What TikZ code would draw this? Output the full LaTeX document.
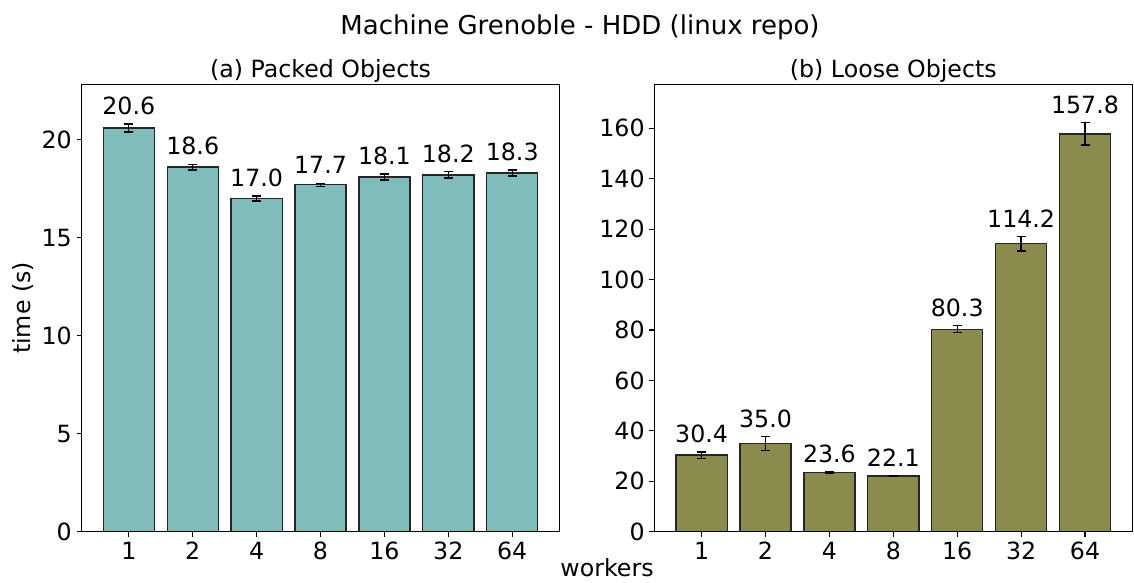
\documentclass[tikz,border=0pt]{standalone}
\usepackage{fontspec}
\setmainfont{DejaVu Sans}
\definecolor{packedfill}{RGB}{128,189,186}
\definecolor{loosefill}{RGB}{139,139,78}

\begin{document}
\begin{tikzpicture}[x=1pt, y=-1pt,
  bar/.style={draw=black!85, line width=1.3pt},
  errbar/.style={black, line width=1.3pt},
  axisframe/.style={draw=black, line width=1.1pt},
  tickline/.style={black, line width=1.1pt},
  ticklabel/.style={font=\fontsize{23.7}{28}\selectfont, inner sep=0pt},
  titlelabel/.style={font=\fontsize{26}{31}\selectfont, inner sep=0pt}]

  \useasboundingbox (0,0) rectangle (1134,583);

  % Titles
  \node[titlelabel, anchor=base] (T) at (580,34.3) {Machine Grenoble - HDD (linux repo)};
  \node[ticklabel, anchor=base] (Ta) at (320.5,77.3) {(a) Packed Objects};
  \node[ticklabel, anchor=base] (Tb) at (893.3,77.3) {(b) Loose Objects};
  \node[ticklabel, anchor=base] (X) at (607,576.7) {workers};
  \node[ticklabel, anchor=base, rotate=90] (Y) at (30.7,308) {time (s)};

  % Packed objects bars
  \foreach \i/\w/\v/\e in {0/1/20.6/0.2, 1/2/18.6/0.14, 2/4/17.0/0.13, 3/8/17.7/0.08,
                           4/16/18.1/0.15, 5/32/18.2/0.16, 6/64/18.3/0.15} {
    \pgfmathsetmacro\cx{128.8+63.9*\i}
    \pgfmathsetmacro\bartop{531.7-19.6*\v}
    \pgfmathsetmacro\eh{531.7-19.6*(\v+\e)}
    \pgfmathsetmacro\el{531.7-19.6*(\v-\e)}
    \draw[bar, fill=packedfill] (\cx-25.55,531.7) rectangle (\cx+25.55,\bartop);
    \draw[errbar] (\cx,\eh) -- (\cx,\el);
    \draw[errbar] (\cx-4.5,\eh) -- (\cx+4.5,\eh);
    \draw[errbar] (\cx-4.5,\el) -- (\cx+4.5,\el);
    \node[ticklabel, anchor=base] (P\i) at (\cx,\eh-9.4) {\v};
    \draw[tickline] (\cx,531.7) -- (\cx,536.6);
    \node[ticklabel, anchor=base] (Px\i) at (\cx,559.3) {\w};
  }
  \foreach \t in {0,5,10,15,20} {
    \pgfmathsetmacro\ty{531.7-19.6*\t}
    \draw[tickline] (76.6,\ty) -- (81.5,\ty);
    \node[ticklabel, anchor=east] (Py\t) at (72,\ty) {\t};
  }
  \draw[axisframe] (81.5,84.3) rectangle (559.5,531.7);

  % Loose objects bars
  \foreach \i/\w/\v/\e in {0/1/30.4/1.25, 1/2/35.0/2.7, 2/4/23.6/0.3, 3/8/22.1/0.2,
                           4/16/80.3/1.4, 5/32/114.2/2.8, 6/64/157.8/4.4} {
    \pgfmathsetmacro\cx{701.6+63.9*\i}
    \pgfmathsetmacro\bartop{531.7-2.521*\v}
    \pgfmathsetmacro\eh{531.7-2.521*(\v+\e)}
    \pgfmathsetmacro\el{531.7-2.521*(\v-\e)}
    \draw[bar, fill=loosefill] (\cx-25.55,531.7) rectangle (\cx+25.55,\bartop);
    \draw[errbar] (\cx,\eh) -- (\cx,\el);
    \draw[errbar] (\cx-4.5,\eh) -- (\cx+4.5,\eh);
    \draw[errbar] (\cx-4.5,\el) -- (\cx+4.5,\el);
    \node[ticklabel, anchor=base] (L\i) at (\cx,\eh-9.4) {\v};
    \draw[tickline] (\cx,531.7) -- (\cx,536.6);
    \node[ticklabel, anchor=base] (Lx\i) at (\cx,559.3) {\w};
  }
  \foreach \t in {0,20,...,160} {
    \pgfmathsetmacro\ty{531.7-2.521*\t}
    \draw[tickline] (649.4,\ty) -- (654.3,\ty);
    \node[ticklabel, anchor=east] (Ly\t) at (644.8,\ty) {\t};
  }
  \draw[axisframe] (654.3,84.3) rectangle (1132.3,531.7);

\end{tikzpicture}
\end{document}
